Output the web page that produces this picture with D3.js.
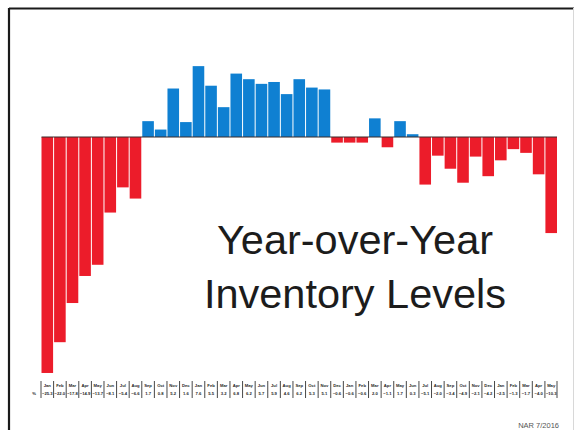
<!DOCTYPE html>
<html>
<head>
<meta charset="utf-8">
<script src="https://cdn.jsdelivr.net/npm/d3@7"></script>
<style>
  html, body { margin: 0; padding: 0; background: #fff; }
  svg { display: block; }
</style>
</head>
<body>
<svg id="chart" width="576" height="435"></svg>
<script>
// Monthly year-over-year change in existing-home inventory (%), Jan 2013 – May 2016
const months = [
  "Jan","Feb","Mar","Apr","May","Jun","Jul","Aug","Sep","Oct","Nov","Dec",
  "Jan","Feb","Mar","Apr","May","Jun","Jul","Aug","Sep","Oct","Nov","Dec",
  "Jan","Feb","Mar","Apr","May","Jun","Jul","Aug","Sep","Oct","Nov","Dec",
  "Jan","Feb","Mar","Apr","May"
];
const yoyChange = [
  -25.3, -22.0, -17.8, -14.9, -13.7, -8.1, -5.4, -6.6,
  1.7, 0.8, 5.2, 1.6, 7.6, 5.5, 3.2, 6.8, 6.2, 5.7, 5.9, 4.6, 6.2, 5.3, 5.1,
  -0.6, -0.6, -0.6,
  2.0, -1.1, 1.7, 0.3,
  -5.1, -2.0, -3.4, -4.9, -2.1, -4.2, -2.5, -1.3, -1.7, -4.0, -10.3
];
const titleLines = ["Year-over-Year", "Inventory Levels"];
const sourceNote = "NAR 7/2016";

const svg = d3.select("#chart");
const ids = d3.range(months.length);

const x = d3.scaleBand().domain(ids).range([41.5, 557]).paddingInner(0.08).paddingOuter(0);
const y = d3.scaleLinear().domain([-26, 8]).range([379.5, 62.4]);

// slide frame
svg.append("line").attr("x1", 9).attr("x2", 574).attr("y1", 8.5).attr("y2", 8.5)
  .attr("stroke", "#1a1a1a").attr("stroke-width", 2);
svg.append("line").attr("x1", 9).attr("x2", 9).attr("y1", 8).attr("y2", 430)
  .attr("stroke", "#1a1a1a").attr("stroke-width", 2.2);
svg.append("line").attr("x1", 573.5).attr("x2", 573.5).attr("y1", 8).attr("y2", 430)
  .attr("stroke", "#d8d8d8").attr("stroke-width", 1);

// bars
svg.append("g").selectAll("rect").data(ids).join("rect")
  .attr("x", i => x(i))
  .attr("width", x.bandwidth())
  .attr("y", i => Math.min(y(yoyChange[i]), y(0)))
  .attr("height", i => Math.abs(y(yoyChange[i]) - y(0)))
  .attr("fill", i => yoyChange[i] >= 0 ? "#0f80d2" : "#ec1c2a");

// zero line
svg.append("line")
  .attr("x1", x.range()[0]).attr("x2", x.range()[1])
  .attr("y1", y(0)).attr("y2", y(0))
  .attr("stroke", "#3a2a2a").attr("stroke-width", 1);

// title
const title = svg.append("text")
  .attr("text-anchor", "middle")
  .attr("font-family", "Liberation Sans, Arial, sans-serif")
  .attr("font-size", 41.5)
  .attr("fill", "#1c1c1c");
title.selectAll("tspan").data(titleLines).join("tspan")
  .attr("x", 355)
  .attr("y", (d, i) => 254 + i * 54)
  .text(d => d);

// data table below the bars
const table = svg.append("g").attr("font-family", "Liberation Sans, Arial, sans-serif")
  .attr("font-size", 4.2).attr("font-weight", "bold").attr("fill", "#1e1e1e");
table.selectAll("line.sep").data(ids.concat([months.length])).join("line")
  .attr("class", "sep")
  .attr("x1", i => i < months.length ? x(i) - 0.5 : x.range()[1])
  .attr("x2", i => i < months.length ? x(i) - 0.5 : x.range()[1])
  .attr("y1", 381).attr("y2", 398)
  .attr("stroke", "#333").attr("stroke-width", 0.9);
table.selectAll("text.m").data(ids).join("text")
  .attr("class", "m")
  .attr("x", i => x(i) + x.bandwidth() / 2)
  .attr("y", 387)
  .attr("text-anchor", "middle")
  .text(i => months[i]);
table.selectAll("text.v").data(ids).join("text")
  .attr("class", "v")
  .attr("x", i => x(i) + x.bandwidth() / 2)
  .attr("y", 395)
  .attr("text-anchor", "middle")
  .text(i => d3.format(".1f")(yoyChange[i]));
table.append("text").attr("x", 34).attr("y", 395).attr("text-anchor", "middle").text("%");

// source note
svg.append("text")
  .attr("x", 559).attr("y", 428)
  .attr("text-anchor", "end")
  .attr("font-family", "Liberation Sans, Arial, sans-serif")
  .attr("font-size", 7.5)
  .attr("fill", "#555")
  .text(sourceNote);
</script>
</body>
</html>
